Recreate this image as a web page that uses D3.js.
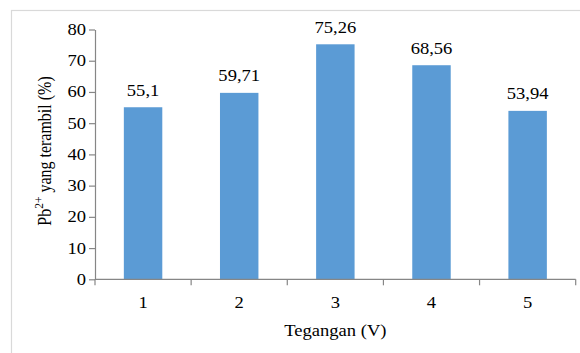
<!DOCTYPE html>
<html>
<head>
<meta charset="utf-8">
<script src="https://cdn.jsdelivr.net/npm/d3@7"></script>
<style>
  html, body { margin: 0; padding: 0; background: #fff; }
  svg { display: block; }
  text { font-family: "Liberation Serif", "Times New Roman", serif; fill: #000; }
</style>
</head>
<body>
<svg id="chart" width="580" height="353"></svg>
<script>
// Voltage levels (V) and Pb2+ removal (%)
const categories = ["1", "2", "3", "4", "5"];
const values = [55.1, 59.71, 75.26, 68.56, 53.94];
const yTicks = [0, 10, 20, 30, 40, 50, 60, 70, 80];

const svg = d3.select("#chart");
const W = 580, H = 353;
const fontSize = 16;
const sx = 1.16; // text is set slightly wide

// chart frame
svg.append("rect")
  .attr("x", 11.5).attr("y", 10.5)
  .attr("width", W).attr("height", H)
  .attr("fill", "#fff")
  .attr("stroke", "#d9d9d9")
  .attr("stroke-width", 1.2);

const plot = { left: 95, right: 575.7, top: 29.5, bottom: 279.3 };

const x = d3.scaleBand()
  .domain(categories)
  .range([plot.left, plot.right])
  .paddingInner(0.6)
  .paddingOuter(0.3);

const y = d3.scaleLinear()
  .domain([0, 80])
  .range([plot.bottom, plot.top]);

const axisColor = "#868686";

// place a wide-set text at (px, py)
function label(g, px, py, str, anchor) {
  return g.append("text")
    .attr("transform", `translate(${px},${py}) scale(${sx},1)`)
    .attr("text-anchor", anchor || "middle")
    .attr("font-size", fontSize)
    .text(str);
}

// bars
svg.append("g").selectAll("rect")
  .data(values)
  .join("rect")
  .attr("x", (d, i) => x(categories[i]))
  .attr("y", d => y(d))
  .attr("width", x.bandwidth())
  .attr("height", d => y(0) - y(d))
  .attr("fill", "#5b9bd5");

// value labels
const vl = svg.append("g");
values.forEach((d, i) => {
  label(vl, x(categories[i]) + x.bandwidth() / 2, y(d) - 11.5, String(d).replace(".", ","));
});

// y axis
const yAxis = svg.append("g")
  .attr("transform", `translate(${plot.left},0)`)
  .call(d3.axisLeft(y).tickValues(yTicks).tickSize(6).tickFormat("").tickSizeOuter(0));
yAxis.select(".domain").attr("stroke", axisColor).attr("stroke-width", 1.2);
yAxis.selectAll(".tick line").attr("stroke", axisColor).attr("stroke-width", 1.2);
const yl = svg.append("g");
yTicks.forEach(t => label(yl, plot.left - 9, y(t) + 5.5, String(t), "end"));

// x axis: line with ticks on category boundaries
const xg = svg.append("g");
xg.append("line")
  .attr("x1", plot.left).attr("x2", plot.right)
  .attr("y1", plot.bottom).attr("y2", plot.bottom)
  .attr("stroke", axisColor).attr("stroke-width", 1.2);
const bounds = d3.range(categories.length + 1).map(i => plot.left + i * x.step());
xg.selectAll("line.tick")
  .data(bounds)
  .join("line")
  .attr("class", "tick")
  .attr("x1", d => d).attr("x2", d => d)
  .attr("y1", plot.bottom).attr("y2", plot.bottom + 6)
  .attr("stroke", axisColor).attr("stroke-width", 1.2);
categories.forEach(c => label(xg, x(c) + x.bandwidth() / 2, plot.bottom + 28.5, c));

// axis titles
label(svg, (plot.left + plot.right) / 2, 336, "Tegangan (V)");

const yTitle = svg.append("text")
  .attr("transform", `translate(51,151) scale(${sx},1) rotate(-90)`)
  .attr("text-anchor", "middle")
  .attr("font-size", fontSize);
yTitle.append("tspan").text("Pb");
yTitle.append("tspan").attr("font-size", 11.5).attr("dy", -6.5).text("2+");
yTitle.append("tspan").attr("dy", 6.5).text(" yang terambil (%)");
</script>
</body>
</html>
